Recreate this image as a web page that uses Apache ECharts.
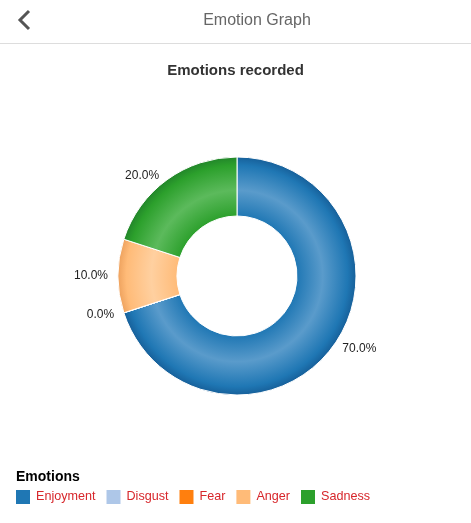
<!DOCTYPE html>
<html>
<head>
<meta charset="utf-8">
<script src="https://cdn.jsdelivr.net/npm/echarts@6/dist/echarts.min.js"></script>
<style>
  html, body { margin: 0; padding: 0; background: #fff; }
  #chart { width: 471px; height: 523px; }
</style>
</head>
<body>
<div id="chart"></div>
<script>
var emotions = ['Enjoyment', 'Disgust', 'Fear', 'Anger', 'Sadness'];
var counts = [7, 0, 0, 1, 2];
var colors = ['#1f77b4', '#aec7e8', '#ff7f0e', '#ffbb78', '#2ca02c'];
var lighter = ['#5a9bcb', '#c8daef', '#ffa552', '#ffd0a0', '#5cba5c'];
var darker = ['#17609a', '#8faed4', '#d96600', '#eea25e', '#22862a'];

var cx = 237, cy = 276, outerR = 119;

var chart = echarts.init(document.getElementById('chart'));

var data = emotions.map(function (name, i) {
    return {
        name: name,
        value: counts[i],
        itemStyle: {
            color: {
                type: 'radial', x: cx, y: cy, r: outerR, global: true,
                colorStops: [
                    { offset: 0, color: colors[i] },
                    { offset: 0.5, color: colors[i] },
                    { offset: 0.72, color: lighter[i] },
                    { offset: 0.93, color: colors[i] },
                    { offset: 1, color: darker[i] }
                ]
            }
        }
    };
});

var option = {
    animation: false,
    color: colors,
    textStyle: { fontFamily: 'Arial, "Liberation Sans", sans-serif' },
    title: [{
        text: 'Emotions recorded',
        left: 'center',
        top: 58,
        textStyle: { fontSize: 15, fontWeight: 'bold', color: '#333' }
    }, {
        text: 'Emotions',
        left: 11,
        top: 465,
        textStyle: { fontSize: 14, fontWeight: 'bold', color: '#000' }
    }],
    legend: {
        left: 16,
        top: 490,
        padding: 0,
        icon: 'rect',
        itemWidth: 14,
        itemHeight: 14,
        itemGap: 11,
        selectedMode: false,
        itemStyle: { borderWidth: 0 },
        data: emotions.map(function (name, i) {
            return { name: name, itemStyle: { color: colors[i], borderWidth: 0 } };
        }),
        textStyle: { color: '#d7262b', fontSize: 12.6, padding: [2, 0, 0, 1] }
    },
    graphic: [
        {
            type: 'polyline',
            shape: { points: [[29, 11], [20, 20], [29, 29]] },
            style: { stroke: '#555', lineWidth: 3, fill: null }
        },
        {
            type: 'text',
            x: 257, y: 21,
            style: {
                text: 'Emotion Graph', fill: '#666', fontSize: 16,
                fontFamily: 'Arial, "Liberation Sans", sans-serif',
                align: 'center', verticalAlign: 'middle'
            }
        },
        {
            type: 'line',
            shape: { x1: 0, y1: 43.5, x2: 471, y2: 43.5 },
            style: { stroke: '#ddd', lineWidth: 1 }
        }
    ],
    series: [{
        type: 'pie',
        center: [cx, cy],
        radius: [60, outerR],
        startAngle: 90,
        clockwise: true,
        avoidLabelOverlap: false,
        itemStyle: { borderColor: '#fff', borderWidth: 1 },
        label: {
            show: true,
            position: 'outside',
            color: '#222',
            fontSize: 12,
            formatter: function (p) { return p.percent.toFixed(1) + '%'; }
        },
        labelLine: { show: false, length: 5, length2: 0 },
        emphasis: { disabled: true },
        data: data
    }]
};

chart.setOption(option);
</script>
</body>
</html>
